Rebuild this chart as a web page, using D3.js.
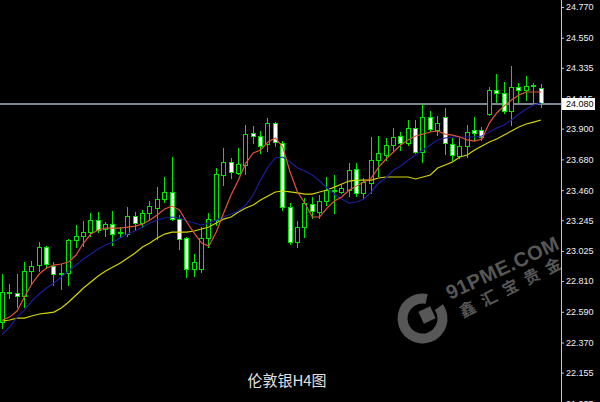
<!DOCTYPE html>
<html><head><meta charset="utf-8">
<script src="https://cdn.jsdelivr.net/npm/d3@7/dist/d3.min.js"></script>
<style>html,body{margin:0;padding:0;background:#000;overflow:hidden}</style>
</head><body>
<svg id="c" width="600" height="402"></svg>
<script>
// ---- data ----
const title = "伦敦银H4图";
const bidPrice = 24.080;
const tickLabels = ["24.770","24.550","24.335","24.115","23.900","23.680","23.460","23.245","23.025","22.810","22.590","22.370","22.155","21.935"];
const openP  = [22.517,22.724,22.724,22.703,22.882,22.924,23.053,22.917,22.860,22.867,23.103,23.132,23.160,23.246,23.182,23.218,23.153,23.146,23.275,23.225,23.296,23.332,23.397,23.447,23.253,23.118,22.896,22.896,23.118,23.246,23.568,23.661,23.583,23.640,23.869,23.847,23.790,23.940,23.797,23.339,23.089,23.196,23.361,23.304,23.382,23.454,23.447,23.461,23.611,23.440,23.511,23.676,23.711,23.783,23.847,23.797,23.904,23.733,23.983,23.890,23.983,23.790,23.704,23.776,23.890,23.890,24.005,24.176,24.155,24.026,24.198,24.176,24.205,24.191];
const highP  = [22.860,22.789,22.860,22.946,22.953,23.089,23.060,22.946,22.932,23.110,23.211,23.239,23.296,23.304,23.232,23.311,23.196,23.339,23.304,23.318,23.382,23.482,23.554,23.697,23.282,23.125,23.003,23.196,23.296,23.618,23.761,23.690,23.761,23.926,23.919,23.883,23.976,23.947,23.811,23.368,23.239,23.404,23.411,23.425,23.554,23.568,23.497,23.654,23.654,23.547,23.840,23.847,23.833,23.904,23.876,23.962,23.962,24.076,24.026,23.990,24.047,23.833,23.833,23.926,23.983,23.912,24.198,24.291,24.233,24.348,24.226,24.276,24.226,24.219];
const lowP   = [22.474,22.688,22.624,22.624,22.796,22.882,22.903,22.781,22.753,22.781,23.053,23.060,23.132,23.160,23.132,23.068,23.125,23.132,23.175,23.196,23.253,23.110,23.375,23.246,23.039,22.839,22.846,22.874,23.053,23.211,23.497,23.547,23.575,23.575,23.797,23.726,23.740,23.776,23.318,23.075,23.053,23.125,23.261,23.261,23.354,23.296,23.440,23.418,23.418,23.404,23.440,23.561,23.676,23.747,23.747,23.783,23.726,23.661,23.883,23.854,23.718,23.676,23.690,23.697,23.819,23.819,23.997,24.090,24.012,23.926,24.090,24.105,24.076,24.055];
const closeP = [22.731,22.731,22.703,22.882,22.917,23.053,22.932,22.860,22.867,23.103,23.132,23.160,23.246,23.175,23.218,23.146,23.160,23.275,23.225,23.296,23.346,23.397,23.447,23.253,23.110,22.896,22.946,23.118,23.253,23.575,23.661,23.590,23.647,23.861,23.847,23.776,23.940,23.804,23.339,23.089,23.196,23.368,23.311,23.382,23.461,23.461,23.475,23.604,23.440,23.518,23.676,23.726,23.783,23.840,23.797,23.904,23.733,23.983,23.897,23.940,23.797,23.711,23.776,23.876,23.869,23.840,24.176,24.155,24.026,24.198,24.176,24.205,24.212,24.083];
const maRed    = [22.531,22.552,22.595,22.696,22.789,22.860,22.903,22.924,22.932,22.946,22.996,23.082,23.146,23.175,23.189,23.189,23.189,23.196,23.203,23.218,23.246,23.282,23.325,23.346,23.318,23.232,23.153,23.082,23.060,23.160,23.296,23.425,23.532,23.654,23.726,23.747,23.804,23.833,23.769,23.590,23.447,23.368,23.268,23.268,23.332,23.382,23.411,23.461,23.490,23.518,23.547,23.625,23.683,23.733,23.783,23.819,23.847,23.861,23.876,23.883,23.861,23.854,23.840,23.819,23.811,23.826,23.940,24.012,24.062,24.105,24.140,24.162,24.162,24.162];
const maBlue   = [22.431,22.481,22.552,22.603,22.667,22.717,22.760,22.796,22.839,22.882,22.924,22.967,23.003,23.039,23.068,23.089,23.118,23.146,23.168,23.196,23.225,23.246,23.261,23.268,23.261,23.239,23.225,23.211,23.225,23.246,23.268,23.289,23.311,23.354,23.425,23.532,23.625,23.690,23.697,23.661,23.618,23.597,23.568,23.525,23.475,23.432,23.397,23.368,23.375,23.397,23.447,23.511,23.547,23.604,23.633,23.676,23.711,23.747,23.783,23.819,23.833,23.840,23.840,23.840,23.840,23.847,23.876,23.904,23.926,23.962,24.005,24.040,24.069,24.083];
const maYellow = [22.524,22.531,22.545,22.545,22.560,22.574,22.581,22.588,22.617,22.660,22.710,22.760,22.803,22.846,22.882,22.910,22.939,22.974,23.010,23.053,23.082,23.118,23.146,23.160,23.160,23.160,23.168,23.182,23.196,23.225,23.253,23.268,23.304,23.332,23.354,23.389,23.418,23.447,23.454,23.447,23.440,23.432,23.432,23.447,23.461,23.482,23.504,23.525,23.532,23.532,23.532,23.547,23.554,23.554,23.554,23.554,23.540,23.554,23.568,23.618,23.640,23.661,23.697,23.711,23.747,23.776,23.804,23.826,23.854,23.883,23.912,23.933,23.947,23.962];
const watermarkText = "91PME.COM";
const watermarkSub = "鑫汇宝贵金属";

// ---- build ----
const W = 600, H = 402, axisX = 561;
const svg = d3.select("#c");
svg.append("rect").attr("width", W).attr("height", H).attr("fill", "#000");

const bars = openP.map((o, i) => ({i, o, h: highP[i], l: lowP[i], c: closeP[i]}));
const x = d3.scaleLinear().domain([0, bars.length - 1]).range([2.3, 541]);
const y = d3.scaleLinear().domain([24.770, 22.155]).range([7, 372.6]);

svg.append("defs").append("clipPath").attr("id", "plot")
  .append("rect").attr("x", 0).attr("y", 0).attr("width", axisX).attr("height", H);
const plot = svg.append("g").attr("clip-path", "url(#plot)");

// watermark
const wm = plot.append("g").attr("fill", "#575757");
const arc = d3.arc().innerRadius(15).outerRadius(25)
  .startAngle(55 * Math.PI / 180).endAngle(372 * Math.PI / 180);
wm.append("path").attr("d", arc()).attr("transform", "translate(422.5,318.5)");
wm.append("rect").attr("x", -6.5).attr("y", -6.5).attr("width", 13).attr("height", 13)
  .attr("transform", "translate(427,315) rotate(-25)");
wm.append("text").attr("transform", "translate(450,300) rotate(-25)")
  .attr("font-family", "Liberation Sans, Arial, sans-serif").attr("font-weight", "bold")
  .attr("font-size", 20).attr("letter-spacing", 0.5).text(watermarkText);
wm.append("text").attr("transform", "translate(463,318) rotate(-27)")
  .attr("font-family", "Noto Sans CJK SC, sans-serif").attr("font-weight", "bold")
  .attr("font-size", 16).attr("letter-spacing", 8).text(watermarkSub);

// bid line
const by = Math.round(y(bidPrice)) + 1;
plot.append("line").attr("x1", 0).attr("x2", axisX).attr("y1", by).attr("y2", by)
  .attr("stroke", "#7b8794").attr("stroke-width", 2);

// candles
const green = "#00e600";
const cg = plot.append("g");
bars.forEach(d => {
  const cx = Math.floor(x(d.i)) + 0.5;
  cg.append("line").attr("x1", cx).attr("x2", cx)
    .attr("y1", Math.round(y(d.h))).attr("y2", Math.round(y(d.l)) + 1)
    .attr("stroke", green).attr("stroke-width", 1);
  const top = Math.round(y(Math.max(d.o, d.c))) + 0.5;
  const bot = Math.round(y(Math.min(d.o, d.c))) + 0.5;
  if (bot - top < 1) {
    cg.append("line").attr("x1", cx - 2).attr("x2", cx + 2).attr("y1", top).attr("y2", top)
      .attr("stroke", green).attr("stroke-width", 1);
  } else {
    cg.append("rect").attr("x", cx - 2).attr("y", top).attr("width", 4).attr("height", bot - top)
      .attr("fill", d.c >= d.o ? "#000" : "#fff").attr("stroke", green).attr("stroke-width", 1);
  }
});

// moving averages
const line = d3.line().x((d, i) => x(i)).y(d => y(d));
[[maYellow, "#d4d400"], [maBlue, "#1c1c9a"], [maRed, "#e0553a"]].forEach(([s, col]) => {
  plot.append("path").attr("d", line(s)).attr("fill", "none")
    .attr("stroke", col).attr("stroke-width", 1.2);
});

// right axis
svg.append("line").attr("x1", axisX + 0.5).attr("x2", axisX + 0.5).attr("y1", 0).attr("y2", H)
  .attr("stroke", "#c8c8c8").attr("stroke-width", 1);
const axis = d3.axisRight(y).tickValues(tickLabels.map(Number))
  .tickFormat((d, i) => tickLabels[i]).tickSize(3).tickPadding(2);
const ag = svg.append("g").attr("transform", `translate(${axisX},0)`).call(axis);
ag.select(".domain").remove();
ag.selectAll(".tick line").attr("stroke", "#c8c8c8");
ag.selectAll(".tick text").attr("fill", "#f0f0f0")
  .attr("font-family", "Liberation Sans, Arial, sans-serif").attr("font-size", 9);

// bid label
svg.append("rect").attr("x", 562).attr("y", 98).attr("width", 33).attr("height", 12).attr("fill", "#fff");
svg.append("text").attr("x", 566).attr("y", 104).attr("dy", "0.35em")
  .attr("font-family", "Liberation Sans, Arial, sans-serif").attr("font-size", 9)
  .attr("fill", "#000").text(d3.format(".3f")(bidPrice));

// title
svg.append("text").attr("x", 287).attr("y", 386).attr("text-anchor", "middle")
  .attr("font-family", "Noto Sans CJK SC, sans-serif").attr("font-size", 15)
  .attr("fill", "#e0e0e0").text(title);
</script>
</body></html>
